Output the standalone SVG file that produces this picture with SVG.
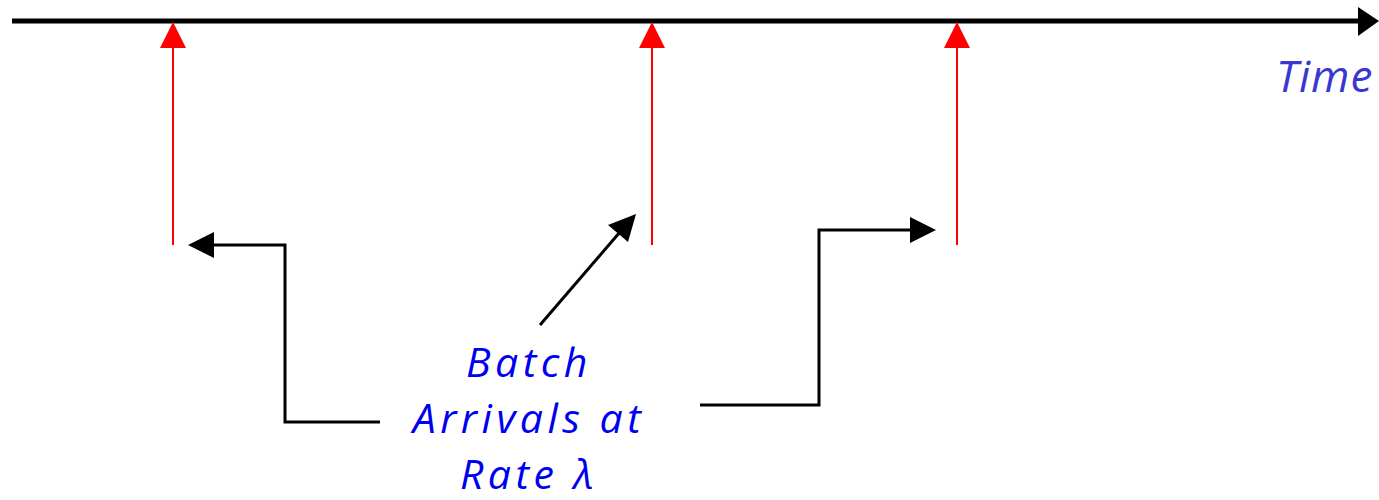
<svg xmlns="http://www.w3.org/2000/svg" width="1379" height="500" viewBox="0 0 1379 500">
<style>
.lbl{font-family:"Comic Sans MS","Open Sans","DejaVu Sans",sans-serif;font-style:italic;font-size:41px;letter-spacing:4.5px;text-anchor:middle;fill:#0000F0}
.time{font-family:"Comic Sans MS","Open Sans","DejaVu Sans",sans-serif;font-style:italic;font-size:44px;letter-spacing:1px;fill:#3838D0}
.red{stroke:#FF0000;stroke-width:2;fill:none}
.blk{stroke:#000;stroke-width:3;fill:none}
</style>
<rect width="1379" height="500" fill="#fff"/>
<g id="axis">
<line x1="12" y1="21" x2="1360" y2="21" stroke="#000" stroke-width="5"/>
<polygon points="1358,7 1379,21 1358,36" fill="#000"/>
<text class="time" x="1276" y="92">Time</text>
</g>
<g id="arrival1">
<line class="red" x1="173" y1="245" x2="173" y2="46"/>
<polygon points="160,48 173,22 186,48" fill="#FF0000"/>
</g>
<g id="arrival2">
<line class="red" x1="652" y1="245" x2="652" y2="46"/>
<polygon points="639,48 652,22 665,48" fill="#FF0000"/>
</g>
<g id="arrival3">
<line class="red" x1="957" y1="245" x2="957" y2="46"/>
<polygon points="944,48 957,22 970,48" fill="#FF0000"/>
</g>
<g id="label">
<text class="lbl" x="529" y="377">Batch</text>
<text class="lbl" x="529" y="433">Arrivals at</text>
<text class="lbl" x="529" y="489">Rate λ</text>
</g>
<g id="connectors">
<polyline class="blk" points="380,422 285,422 285,245 212,245"/>
<polygon points="188,245 214,232 214,258" fill="#000"/>
<line class="blk" x1="540" y1="325" x2="620" y2="232"/>
<polygon points="636,214 628,242 608,225" fill="#000"/>
<polyline class="blk" points="700,405 819,405 819,230 912,230"/>
<polygon points="936,230 910,217 910,243" fill="#000"/>
</g>
</svg>
